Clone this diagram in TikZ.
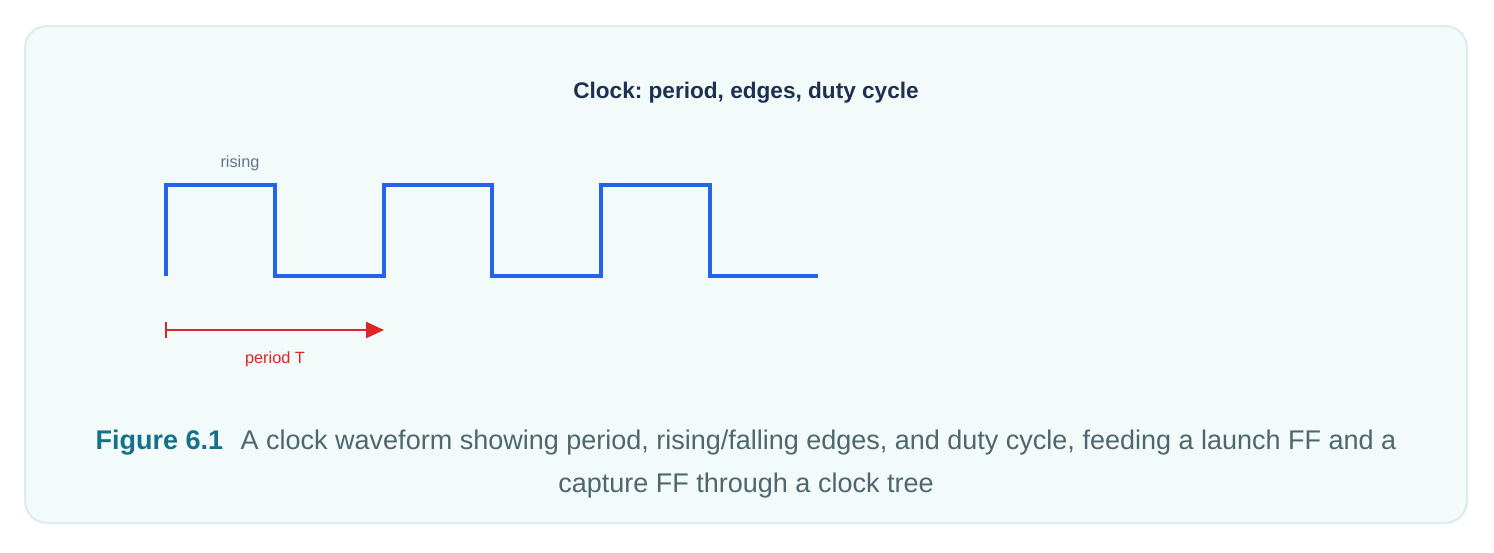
\documentclass[tikz,border=0pt]{standalone}
\usepackage{fontspec}
\setmainfont{Liberation Sans}
\frenchspacing
\usetikzlibrary{arrows.meta}
\tikzset{
    wave line/.style={draw=WaveBlue, line width=4pt, line join=miter},
    period arrow/.style={draw=PeriodRed, line width=2.5pt, -{Triangle[length=18pt, width=16pt]}},
    small label/.style={font=\fontsize{16.3}{19}\selectfont, inner sep=0pt},
}
\definecolor{WaveBlue}{HTML}{2563EB}
\definecolor{PeriodRed}{HTML}{DC2626}
\definecolor{PanelFill}{HTML}{F2FAFA}
\definecolor{PanelEdge}{HTML}{DCEBEE}
\definecolor{TitleInk}{HTML}{1E3050}
\definecolor{LabelGray}{HTML}{64748B}
\definecolor{CaptionTeal}{HTML}{15718A}
\definecolor{CaptionInk}{HTML}{4E666E}

\begin{document}
\begin{tikzpicture}[x=1pt, y=-1pt]

    \useasboundingbox (0, 0) rectangle (1494, 552);
    \draw[fill=PanelFill, draw=PanelEdge, line width=2pt, rounded corners=22pt]
        (25, 26) rectangle (1467, 523);

    \node[font=\fontsize{22.6}{27}\selectfont\bfseries, text=TitleInk] (title) at (746, 93) {Clock: period, edges, duty cycle};

    % clock waveform
    \coordinate (W0) at (166, 276);
    \draw[wave line] (W0) -- ++(0, -91) -- ++(109, 0) -- ++(0, 91) -- ++(109, 0)
        -- ++(0, -91) -- ++(108, 0) -- ++(0, 91) -- ++(109, 0)
        -- ++(0, -91) -- ++(109, 0) -- ++(0, 91) -- ++(108, 0);

    \node[small label, text=LabelGray] (rising) at (240, 163) {rising};

    % period arrow
    \coordinate (P0) at (166, 330);
    \coordinate (P1) at (384, 330);
    \draw[period arrow] (P0) -- (P1);
    \draw[draw=PeriodRed, line width=2pt] ([yshift=-8pt]P0) -- ([yshift=8pt]P0);
    \node[small label, text=PeriodRed] (period) at (275, 359) {period T};

    % caption
    \node[align=center, font=\fontsize{27}{43}\selectfont, text=CaptionInk] (caption) at (746, 464)
        {\textcolor{CaptionTeal}{\bfseries Figure 6.1}\hspace{0.65em}A clock waveform showing period, rising/falling edges, and duty cycle, feeding a launch FF and a\\
        capture FF through a clock tree};

\end{tikzpicture}
\end{document}
